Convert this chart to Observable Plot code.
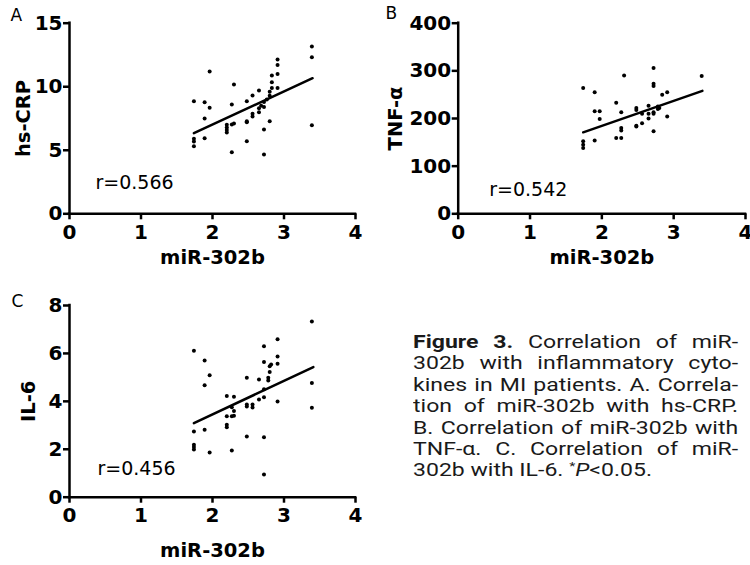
<!DOCTYPE html>
<html>
<head>
<meta charset="utf-8">
<script src="https://cdn.jsdelivr.net/npm/d3@7"></script>
<script src="https://cdn.jsdelivr.net/npm/@observablehq/plot@0.6"></script>
<style>
  body { margin: 0; background: #fff; }
  #fig { position: relative; width: 750px; height: 565px; overflow: hidden; background: #fff; }
  .panel { position: absolute; }
  #caption {
    position: absolute; left: 413px; top: 331px; width: 254px;
    transform: scaleX(1.28); transform-origin: 0 0;
    font-family: Roboto, "Noto Sans", sans-serif; font-size: 18px; line-height: 21.4px; color: #1a1a1a;
  }
  #caption div { text-align: justify; text-align-last: justify; height: 21.4px; white-space: nowrap; }
  #caption div.last { text-align: left; text-align-last: left; }
  #caption sup { font-size: 11px; vertical-align: 0; position: relative; top: -6px; line-height: 0; }
</style>
</head>
<body>
<div id="fig">
  <div id="pA" class="panel" style="left:0;top:0;width:375px;height:270px"></div>
  <div id="pB" class="panel" style="left:380px;top:0;width:370px;height:270px"></div>
  <div id="pC" class="panel" style="left:0;top:280px;width:375px;height:285px"></div>
  <div id="caption">
    <div><b>Figure 3.</b> Correlation of miR-</div>
    <div>302b with inflammatory cyto-</div>
    <div>kines in MI patients. A. Correla-</div>
    <div>tion of miR-302b with hs-CRP.</div>
    <div>B. Correlation of miR-302b with</div>
    <div>TNF-α. C. Correlation of miR-</div>
    <div class="last">302b with IL-6. <sup>*</sup><i>P</i>&lt;0.05.</div>
  </div>
</div>
<script>
// ---------- data ----------
const xTicks = [0, 1, 2, 3, 4];
const xLabel = "miR-302b";

// Panel A: hs-CRP
const xA = [1.74,1.74,1.74,1.74, 1.89,1.89,1.89, 1.96,1.96, 2.20,2.20,2.20,2.20, 2.27,2.27,2.27, 2.30,2.30,
            2.48,2.48,2.48,2.48, 2.56,2.56,2.56, 2.65,2.65,2.65, 2.68, 2.72,2.72,2.72,2.72, 2.76, 2.80,2.80,2.80,
            2.83,2.83,2.83, 2.91,2.91,2.91,2.91, 3.39,3.39,3.39];
const yA = [8.86,5.9,5.69,5.32, 8.78,7.5,5.95, 11.2,8.34, 7.0,6.8,6.6,6.4, 8.6,7.03,4.85, 10.17,7.1,
            8.86,7.29,7.2,5.71, 9.31,7.87,7.66, 9.70,8.3,8.0, 8.5, 8.8,6.63,4.67,8.4, 9.0, 7.29,9.3,9.6,
            10.88,10.35,9.9, 12.14,11.72,11.01,9.91, 13.16,12.32,6.97];
const fitXA = [1.74, 3.40];
const fitYA = [6.34, 10.67];
const yTicksA = [0, 5, 10, 15];
const yLabelA = "hs-CRP";
const rA = "r=0.566";

// Panel B: TNF-α
const xB = [1.74,1.74,1.74,1.74, 1.90,1.90,1.90, 1.97,1.97, 2.20,2.20, 2.27,2.27,2.27,2.27, 2.31,
            2.48,2.48,2.48,2.48, 2.56,2.56, 2.65,2.65,2.65, 2.72,2.72,2.72,2.72,2.72,2.72,
            2.78,2.78, 2.80, 2.84, 2.91,2.91, 3.39];
const yB = [264,152,145,138, 255,154,215, 215,199, 233,159, 159,213,175,180, 290,
            222,218,183,185, 210,190, 227,210,200, 306,273,268,213,210,173,
            220,225, 222, 250, 255,204, 289];
const fitXB = [1.74, 3.40];
const fitYB = [171, 258];
const yTicksB = [0, 100, 200, 300, 400];
const yLabelB = "TNF-α";
const rB = "r=0.542";

// Panel C: IL-6
const xC = [1.74,1.74,1.74,1.74,1.74, 1.89,1.89,1.89, 1.96,1.96, 2.20,2.20,2.20,2.20, 2.27,2.27,2.27,
            2.30,2.30,2.30, 2.48,2.48,2.48,2.48, 2.56,2.56, 2.65,2.65, 2.72,2.72,2.72,2.72,2.72,2.72,
            2.78,2.78, 2.80,2.80, 2.82, 2.91,2.91,2.91,2.91, 3.39,3.39,3.39];
const yC = [6.11,2.74,2.19,2.09,1.99, 5.70,4.67,2.81, 5.09,1.87, 4.22,3.38,3.02,2.92, 3.75,3.38,1.95,
            4.19,3.6,3.4, 4.98,3.87,3.79,2.53, 3.87,3.74, 4.91,4.08, 6.30,5.64,4.17,2.50,4.5,0.95,
            4.87,4.98, 5.22,5.46, 5.54, 6.59,5.87,5.57,3.99, 7.33,4.77,3.73];
const fitXC = [1.74, 3.41];
const fitYC = [3.09, 5.43];
const yTicksC = [0, 2, 4, 6, 8];
const yLabelC = "IL-6";
const rC = "r=0.456";

// ---------- drawing ----------
const zip = (xs, ys) => xs.map((x, i) => ({x, y: ys[i]}));
const fmt = d => String(d);

function panel(o) {
  return Plot.plot({
    width: o.width, height: o.height,
    marginLeft: o.ml, marginRight: o.mr, marginTop: o.mt, marginBottom: o.mb,
    x: {domain: [0, 4]},
    y: {domain: o.yDomain},
    style: {fontFamily: "DejaVu Sans", fontSize: "20px", color: "black", background: "transparent", overflow: "visible"},
    marks: [
      Plot.ruleY([0], {strokeWidth: 2.5, strokeLinecap: "square"}),
      Plot.ruleX([0], {strokeWidth: 2.5, strokeLinecap: "square"}),
      Plot.axisX({ticks: xTicks, tickFormat: fmt, tickSize: 6, tickPadding: 5, strokeWidth: 2.5, fontWeight: "bold", fontSize: 20, label: null}),
      Plot.axisY({ticks: o.yTicks, tickFormat: fmt, tickSize: 6, tickPadding: 1, strokeWidth: 2.5, fontWeight: "bold", fontSize: 20, label: null}),
      Plot.text([xLabel], {frameAnchor: "bottom", dy: o.xlDy, textAnchor: "middle", lineAnchor: "bottom", fontWeight: "bold", fontSize: 19.5}),
      Plot.text([o.yLabel], {frameAnchor: "left", dx: o.ylDx, rotate: -90, textAnchor: "middle", lineAnchor: "bottom", fontWeight: "bold", fontSize: 19.5}),
      Plot.text([o.r], {frameAnchor: "bottom-left", dx: o.rDx, dy: o.rDy, textAnchor: "start", lineAnchor: "bottom", fontSize: 19}),
      Plot.text([o.letter], {frameAnchor: "top-left", dx: o.lDx, dy: o.lDy, textAnchor: "start", lineAnchor: "bottom", fontSize: 17}),
      Plot.dot(o.pts, {x: "x", y: "y", r: 2, fill: "black", stroke: null}),
      Plot.line(o.fit, {x: "x", y: "y", strokeWidth: 2.5})
    ]
  });
}

document.getElementById("pA").append(panel({
  width: 375, height: 270, ml: 69, mr: 20, mt: 22.7, mb: 56.7,
  yDomain: [0, 15], yTicks: yTicksA, yLabel: yLabelA, r: rA, letter: "A",
  pts: zip(xA, yA), fit: zip(fitXA, fitYA),
  xlDy: 50, ylDx: -40, rDx: 26, rDy: -25, lDx: -59, lDy: -2.7
}));

document.getElementById("pB").append(panel({
  width: 370, height: 270, ml: 77.7, mr: 5, mt: 22.7, mb: 56.7,
  yDomain: [0, 400], yTicks: yTicksB, yLabel: yLabelB, r: rB, letter: "B",
  pts: zip(xB, yB), fit: zip(fitXB, fitYB),
  xlDy: 50, ylDx: -56, rDx: 31, rDy: -17.5, lDx: -72.7, lDy: -4.7
}));

document.getElementById("pC").append(panel({
  width: 375, height: 285, ml: 69, mr: 20, mt: 25, mb: 68.3,
  yDomain: [0, 8], yTicks: yTicksC, yLabel: yLabelC, r: rC, letter: "C",
  pts: zip(xC, yC), fit: zip(fitXC, fitYC),
  xlDy: 60, ylDx: -35, rDx: 28, rDy: -22.4, lDx: -58, lDy: 1
}));
</script>
</body>
</html>
